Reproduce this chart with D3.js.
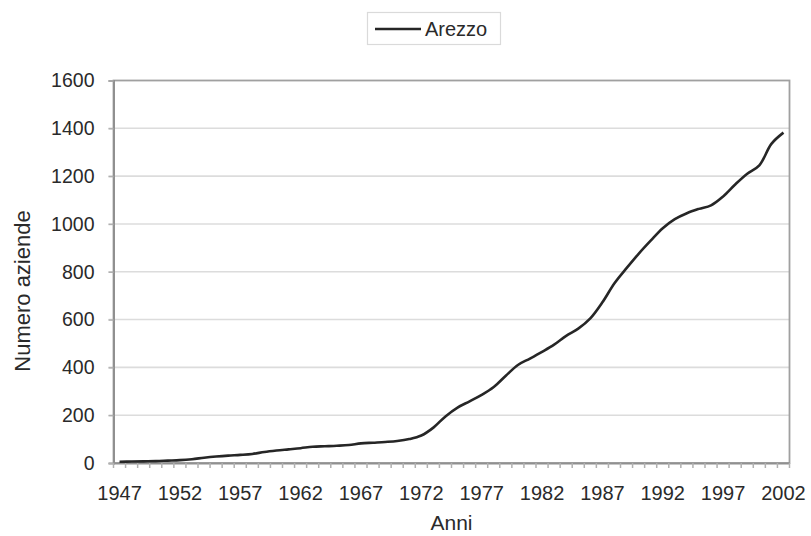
<!DOCTYPE html>
<html>
<head>
<meta charset="utf-8">
<script src="https://cdn.jsdelivr.net/npm/d3@7"></script>
<style>
  html, body { margin: 0; padding: 0; background: #fff; }
  svg { display: block; font-family: "Liberation Sans", Arial, sans-serif; }
</style>
</head>
<body>
<svg id="chart" width="811" height="536"></svg>
<script>
const years = d3.range(1947, 2003);
const seriesName = "Arezzo";
const values = [
  5, 6, 7, 8, 10, 12, 16, 22, 27, 31,
  34, 38, 46, 52, 57, 62, 68, 70, 72, 75,
  82, 85, 88, 92, 100, 115, 148, 195, 232, 258,
  285, 318, 365, 410, 437, 465, 495, 532, 562, 605,
  672, 752, 815, 875, 930, 982, 1020, 1045, 1063, 1078,
  1115, 1165, 1210, 1245, 1335, 1382
];
const yTicks = [0, 200, 400, 600, 800, 1000, 1200, 1400, 1600];
const xLabelYears = years.filter((y, i) => i % 5 === 0);
const xTitle = "Anni";
const yTitle = "Numero aziende";

(function draw() {
  const svg = d3.select("#chart");
  const mLeft = 113.5, mRight = 789.5, mTop = 80.5, mBottom = 463;

  const x = d3.scaleBand().domain(years).range([mLeft, mRight]).padding(0);
  const y = d3.scaleLinear().domain([0, 1600]).range([mBottom, mTop]);

  // gridlines
  svg.append("g").selectAll("line").data(yTicks.filter(d => d > 0 && d < 1600)).join("line")
    .attr("x1", mLeft - 5).attr("x2", mRight)
    .attr("y1", d => y(d)).attr("y2", d => y(d))
    .attr("stroke", "#dcdcdc").attr("stroke-width", 1.6);

  // plot border
  svg.append("rect")
    .attr("x", mLeft).attr("y", mTop)
    .attr("width", mRight - mLeft).attr("height", mBottom - mTop)
    .attr("fill", "none").attr("stroke", "#a0a0a0").attr("stroke-width", 1.8);

  // y axis
  const yAxis = d3.axisLeft(y).tickValues(yTicks).tickFormat(d3.format("d")).tickSize(5).tickPadding(14);
  const gy = svg.append("g").attr("transform", `translate(${mLeft},0)`).call(yAxis);
  gy.select(".domain").attr("stroke", "#909090").attr("stroke-width", 2);
  gy.selectAll(".tick line").attr("stroke", "#b0b0b0").attr("stroke-width", 1.5);
  gy.selectAll("text").attr("font-size", 19.5).attr("fill", "#2a2a2a")
    .attr("font-family", "'Liberation Sans', Arial, sans-serif");

  // x axis: labels at every 5th category center
  const xAxis = d3.axisBottom(x).tickValues(xLabelYears).tickSize(0).tickPadding(23);
  const gx = svg.append("g").attr("transform", `translate(0,${mBottom})`).call(xAxis);
  gx.select(".domain").attr("stroke", "#909090").attr("stroke-width", 2);
  gx.selectAll("text").attr("font-size", 20).attr("fill", "#2a2a2a")
    .attr("font-family", "'Liberation Sans', Arial, sans-serif");

  // x tick marks at category boundaries
  const boundaries = years.map(yr => x(yr)).concat([x(years[years.length - 1]) + x.bandwidth()]);
  svg.append("g").selectAll("line").data(boundaries).join("line")
    .attr("x1", d => d).attr("x2", d => d)
    .attr("y1", mBottom).attr("y2", mBottom + 5)
    .attr("stroke", "#b0b0b0").attr("stroke-width", 1.5);

  // line
  const line = d3.line()
    .x((d, i) => x(years[i]) + x.bandwidth() / 2)
    .y(d => y(d))
    .curve(d3.curveCatmullRom.alpha(0.5));
  svg.append("path").datum(values)
    .attr("d", line)
    .attr("fill", "none").attr("stroke", "#262626").attr("stroke-width", 2.6)
    .attr("stroke-linejoin", "round");

  // axis titles
  svg.append("text").attr("x", (mLeft + mRight) / 2).attr("y", 530)
    .attr("text-anchor", "middle").attr("font-size", 21).attr("fill", "#2a2a2a")
    .text(xTitle);
  svg.append("text")
    .attr("transform", "translate(30,291) rotate(-90)")
    .attr("text-anchor", "middle").attr("font-size", 22).attr("fill", "#2a2a2a")
    .text(yTitle);

  // legend
  const lg = svg.append("g");
  lg.append("rect").attr("x", 367.5).attr("y", 12.5).attr("width", 133).attr("height", 32)
    .attr("fill", "#fff").attr("stroke", "#dadada").attr("stroke-width", 1.2);
  lg.append("line").attr("x1", 375).attr("x2", 421).attr("y1", 29).attr("y2", 29)
    .attr("stroke", "#262626").attr("stroke-width", 2.6);
  lg.append("text").attr("x", 425).attr("y", 36).attr("font-size", 20).attr("fill", "#2a2a2a")
    .text(seriesName);
})();
</script>
</body>
</html>
